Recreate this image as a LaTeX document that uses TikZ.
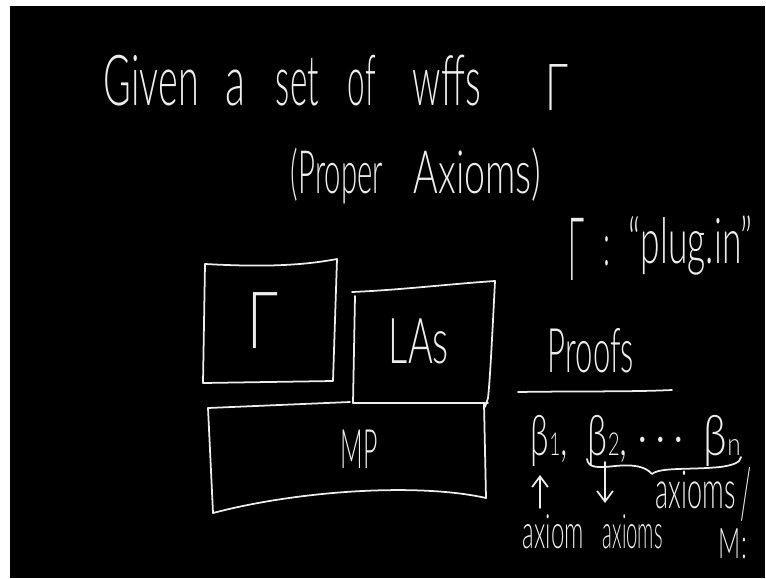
\documentclass[tikz,border=0pt]{standalone}
\usepackage{fontspec}
\usepackage{graphicx}
\usetikzlibrary{arrows.meta}
\IfFontExistsTF{Lato Light}{\setmainfont{Lato Light}}{\setmainfont{Lato}}
\definecolor{ink}{gray}{0.93}
% set #2 in the current font, squeezed horizontally to #1 px
\newlength\hwlen
\newcommand\hw[2]{\settowidth\hwlen{#2}\pgfmathsetmacro\hwr{#1*0.569055/\hwlen}\scalebox{\hwr}[1]{#2}}
\newcommand\fs[1]{\fontsize{#1}{#1}\selectfont}
\begin{document}
\begin{tikzpicture}[x=0.02cm,y=-0.02cm,line width=1pt,line cap=round,line join=round]
\tikzset{
  hand/.style={text=ink,inner sep=0pt,anchor=base west},
  stroke/.style={draw=ink},
  pointer/.style={draw=ink,-{Straight Barb[length=6pt,width=9pt]}}
}
\useasboundingbox (0,0) rectangle (766,578);
\fill[white] (0,0) rectangle (766,578);
\fill[black] (10,6) rectangle (765,578);

% heading
\node[hand,font=\fs{40}] (given) at (103,105) {\hw{95}{Given}};
\node[hand,font=\fs{40}] (a) at (225,105) {\hw{20}{a}};
\node[hand,font=\fs{40}] (set) at (275,105) {\hw{43}{set}};
\node[hand,font=\fs{40}] (of) at (347,105) {\hw{28}{of}};
\node[hand,font=\fs{40}] (wffs) at (412,105) {\hw{68}{wffs}};
\node[hand,font=\fs{37}] (gammaTitle) at (545,110) {\hw{23}{Γ}};
\node[hand,font=\fs{34}] (proper) at (290,193) {\hw{92}{(Proper}};
\node[hand,font=\fs{34}] (axiomsTitle) at (413,193) {\hw{127}{Axioms)}};

% plug-in remark
\node[hand,font=\fs{50}] (gammaPlug) at (568,280) {\hw{16}{Γ}};
\node[hand,font=\fs{34}] (colon) at (603,265) {\hw{7}{:}};
\node[hand,font=\fs{36}] (plug) at (628,263) {\hw{124}{“plug.in”}};

% boxes
\draw[stroke] (205,264) .. controls (260,267) and (300,266) .. (337,259)
  -- (333,381) -- (203,383) -- cycle;
\draw[stroke] (352,292) .. controls (400,290) and (450,284) .. (495,281)
  .. controls (492,340) and (490,380) .. (488,398) -- (485,407);
\draw[stroke] (355,296) -- (353,403) -- (488,403);
\draw[stroke] (350,402) -- (208,408) -- (213,513)
  .. controls (300,490) and (420,483) .. (486,498) -- (484,404);
\node[hand,font=\fs{45}] (gammaBox) at (247,348) {\hw{31}{Γ}};
\node[hand,font=\fs{36}] (las) at (388,363) {\hw{60}{LAs}};
\node[hand,font=\fs{31}] (mp) at (340,468) {\hw{37}{MP}};

% proofs
\node[hand,font=\fs{35}] (proofs) at (547,372) {\hw{86}{Proofs}};
\draw[stroke] (518,392) .. controls (580,391) and (630,392) .. (672,390);
\node[hand,font=\fs{32}] (b1) at (530,455) {\hw{37}{β{\fs{18}1},}};
\node[hand,font=\fs{32}] (b2) at (587,455) {\hw{40}{β{\fs{18}2},}};
\node[hand,font=\fs{30}] (dots) at (637,455) {\hw{46}{·\,·\,·}};
\node[hand,font=\fs{32}] (bn) at (703,455) {\hw{37}{β{\fs{18}n}}};
\draw[stroke] (587,459) .. controls (588,468) and (598,468) .. (615,466)
  .. controls (635,464) and (646,467) .. (652,474)
  .. controls (660,467) and (690,470) .. (720,467)
  .. controls (735,465) and (740,462) .. (741,457);
\coordinate (b1foot) at (540,475);
\coordinate (upTail) at (540,508);
\coordinate (b2foot) at (605,462);
\coordinate (downTip) at (605,503);
\draw[pointer] (upTail) -- (b1foot);
\draw[pointer] (b2foot) -- (downTip);
\node[hand,font=\fs{30}] (axiomsRight) at (655,508) {\hw{80}{axioms}};
\node[hand,font=\fs{40}] (slash) at (740,518) {\hw{11}{/}};
\node[hand,font=\fs{27}] (axiom) at (522,548) {\hw{61}{axiom}};
\node[hand,font=\fs{27}] (axioms) at (602,548) {\hw{60}{axioms}};
\node[hand,font=\fs{24}] (mcolon) at (718,558) {\hw{28}{M:}};
\end{tikzpicture}
\end{document}
